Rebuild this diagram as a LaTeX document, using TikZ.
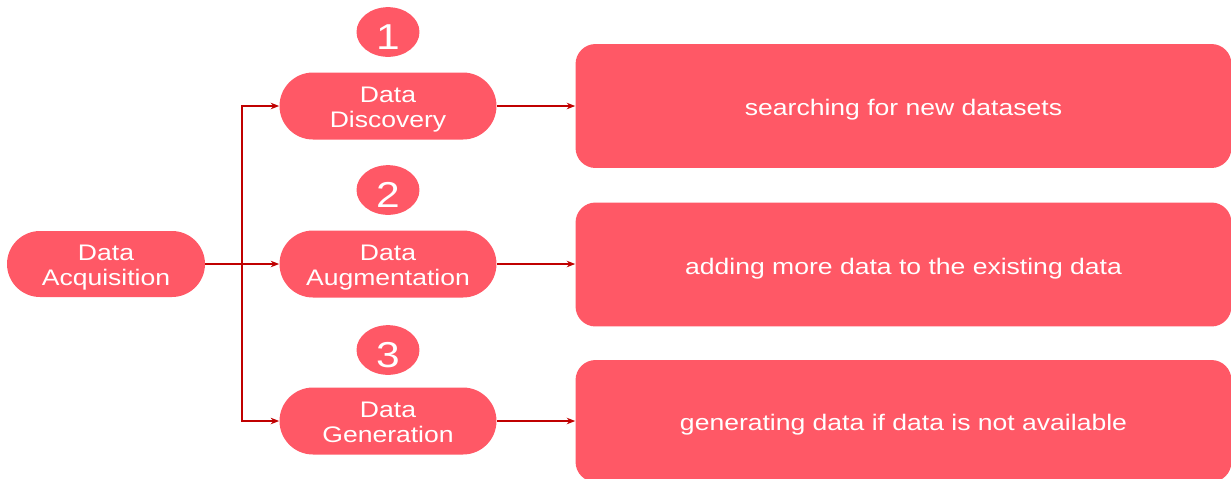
\documentclass[tikz,border=0pt]{standalone}
\usepackage{fontspec}
\setmainfont[FakeStretch=1.18]{Liberation Sans}
\usepackage{tikz}
\usetikzlibrary{
    arrows.meta,
    shapes.misc,
    shapes.geometric
}
\definecolor{boxred}{RGB}{255,88,102}
\definecolor{linkred}{RGB}{192,0,0}

\begin{document}
\begin{tikzpicture}[x=0.02cm, y=-0.02cm,
    pill/.style={rounded rectangle, fill=boxred, text=white, align=center,
        minimum width=4.34cm, minimum height=1.34cm, inner sep=0pt,
        text height=25pt, text depth=0pt,
        font=\fontsize{12.8}{14.7}\selectfont},
    stepnum/.style={ellipse, fill=boxred, text=white, inner sep=0pt,
        minimum width=1.26cm, minimum height=0.84cm,
        text height=20pt, text depth=0pt,
        font=\fontsize{20.5}{20.5}\selectfont},
    infobox/.style={rectangle, rounded corners=0.4cm, fill=boxred, text=white,
        minimum width=13.12cm, minimum height=2.48cm, inner sep=0pt,
        text height=11.2pt, text depth=0pt,
        font=\fontsize{12.8}{14.7}\selectfont},
    wire/.style={linkred, line width=1.2pt},
    link/.style={wire, -{Stealth[length=0.17cm, width=0.13cm]}}
]

% Frame
\clip (0,0) rectangle (1231,478);
\fill[white] (0,0) rectangle (1231,478);

% Source
\node[pill, minimum width=3.96cm, minimum height=1.32cm] (acq) at (106,264) {Data\\Acquisition};

% Three routes
\node[pill] (disc) at (388,106) {Data\\Discovery};
\node[pill] (aug) at (388,264) {Data\\Augmentation};
\node[pill] (gen) at (388,421) {Data\\Generation};

% Step numbers
\node[stepnum] (n1) at (388,32) {1};
\node[stepnum] (n2) at (388,190) {2};
\node[stepnum] (n3) at (388,350) {3};

% Descriptions
\node[infobox] (dsc1) at (903.5,106) {searching for new datasets};
\node[infobox] (dsc2) at (903.5,264.5) {adding more data to the existing data};
\node[infobox, minimum height=2.44cm] (dsc3) at (903.5,421) {generating data if data is not available};

% Branching
\coordinate (split) at (242,264);
\draw[wire] (acq.east) -- (split);
\draw[link] (split) |- (disc.west);
\draw[link] (split) -- (aug.west);
\draw[link] (split) |- (gen.west);

% To descriptions
\draw[link] (disc.east) -- (dsc1.west |- disc.east);
\draw[link] (aug.east) -- (dsc2.west |- aug.east);
\draw[link] (gen.east) -- (dsc3.west |- gen.east);

\end{tikzpicture}
\end{document}
